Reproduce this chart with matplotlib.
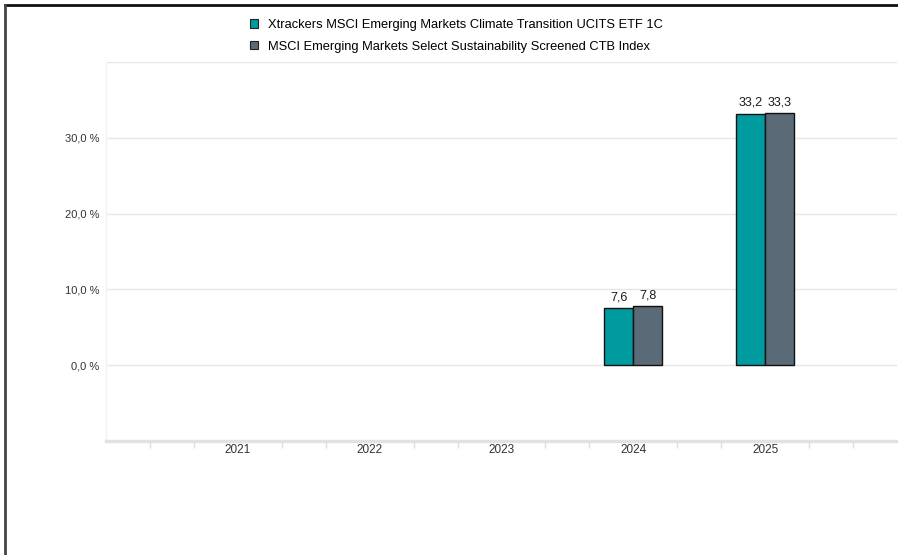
import numpy as np
import matplotlib.pyplot as plt
from matplotlib.patches import Patch
from matplotlib.lines import Line2D

plt.rcParams['font.family'] = ['Liberation Sans', 'DejaVu Sans']

# data
years = ['2021', '2022', '2023', '2024', '2025']
etf = [None, None, None, 7.6, 33.2]
index = [None, None, None, 7.8, 33.3]
series_names = ['Xtrackers MSCI Emerging Markets Climate Transition UCITS ETF 1C',
                'MSCI Emerging Markets Select Sustainability Screened CTB Index']
colors = ['#009b9e', '#5a6a77']

fig = plt.figure(figsize=(8.98, 5.55), dpi=100)
ax = fig.add_axes([106 / 898, 1 - 441 / 555, 791 / 898, 379 / 555])

x = np.arange(len(years))
w = 0.22
for vals, off, col in [(etf, -w / 2, colors[0]), (index, w / 2, colors[1])]:
    for xi, v in zip(x, vals):
        if v is None:
            continue
        ax.bar(xi + off, v, width=w, color=col, edgecolor='#111111', linewidth=1, zorder=3)
        ax.text(xi + off, v + 0.6, f'{v:.1f}'.replace('.', ','), ha='center', va='bottom',
                fontsize=9, color='#1a1a1a', zorder=4)

ax.set_xlim(-1, 5)
ax.set_ylim(-10, 40)
ax.set_yticks([0, 10, 20, 30, 40])
ax.set_yticklabels(['0,0 %', '10,0 %', '20,0 %', '30,0 %', ''], fontsize=8, color='#333333')
ax.yaxis.grid(True, color='#e6e6e6', linewidth=1, zorder=0)
ax.tick_params(axis='y', length=0, pad=5)

ax.set_xticks(x)
ax.set_xticklabels(years, fontsize=8.5, color='#333333')
ax.set_xticks([t / 3 - 1 for t in range(19) if t % 3 != 0], minor=True)
ax.tick_params(axis='x', which='major', length=0, pad=2)
ax.tick_params(axis='x', which='minor', length=5, width=1, color='#dddddd', direction='out')

for s in ['top', 'right']:
    ax.spines[s].set_visible(False)
ax.spines['left'].set_color('#f3f3f3')
ax.spines['left'].set_linewidth(1)
ax.spines['bottom'].set_color('#e2e2e2')
ax.spines['bottom'].set_linewidth(2.5)

handles = [Patch(facecolor=c, edgecolor='#222222', linewidth=0.8) for c in colors]
fig.legend(handles, series_names, loc='upper left', bbox_to_anchor=(250 / 898, 1 - 19 / 555),
           frameon=False, fontsize=9.25, handlelength=0.65, handleheight=0.65,
           handletextpad=0.72, labelspacing=0.75, borderaxespad=0, borderpad=0)

# frame of the screenshot
fig.add_artist(Line2D([4.5 / 898, 1], [1 - 4.5 / 555, 1 - 4.5 / 555], color='#111111', linewidth=2))
fig.add_artist(Line2D([4.5 / 898, 4.5 / 898], [0, 1 - 4.5 / 555], color='#444444', linewidth=2))

fig.savefig('out.png', dpi=100)
